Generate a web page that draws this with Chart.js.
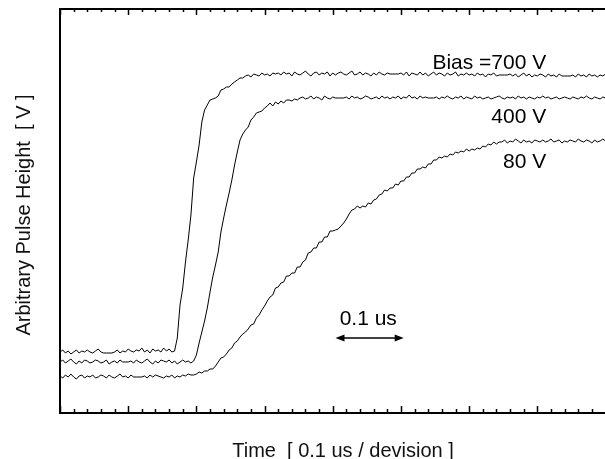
<!DOCTYPE html>
<html>
<head>
<meta charset="utf-8">
<script src="https://cdn.jsdelivr.net/npm/chart.js@4/dist/chart.umd.min.js"></script>
<style>
  html, body { margin: 0; padding: 0; background: #fff; overflow: hidden; }
  #wrap { width: 605px; height: 459px; overflow: hidden; position: relative; }
  canvas { display: block; }
</style>
</head>
<body>
<div id="wrap"><canvas id="c" width="640" height="459"></canvas></div>
<script>
// Time base of the trace (ns), one sample every 4 ns
const timeNs = [0,4,8,12,16,20,24,28,32,36,40,44,48,52,56,60,64,68,72,76,80,84,88,92,96,100,104,108,112,116,120,124,128,132,136,140,144,148,152,156,160,164,168,172,176,180,184,188,192,196,200,204,208,212,216,220,224,228,232,236,240,244,248,252,256,260,264,268,272,276,280,284,288,292,296,300,304,308,312,316,320,324,328,332,336,340,344,348,352,356,360,364,368,372,376,380,384,388,392,396,400,404,408,412,416,420,424,428,432,436,440,444,448,452,456,460,464,468,472,476,480,484,488,492,496,500,504,508,512,516,520,524,528,532,536,540,544,548,552,556,560,564,568,572,576,580,584,588,592,596,600,604,608,612,616,620,624,628,632,636,640,644,648,652,656,660,664,668,672,676,680,684,688,692,696,700,704,708,712,716,720,724,728,732,736,740,744,748,752,756,760,764,768,772,776,780,784,788,792,796,800,804,808,812,816,820,824,828];

// Pulse height (arbitrary units) for each bias voltage
const bias700 = [
  61,63,60,62,59,61,63,60,62,61, 63,61,60,62,64,61,60,60,60,60,
  61,63,60,62,61,64,62,61,63,62, 65,61,63,60,64,62,63,61,65,62,
  64,61,62,
  75,108,125,151,173,198,235,251,268,291, 303,308,313,314,315,317,323,324,326,326,
  329,331,333,335,335,337,338,336,339,338, 337,340,338,339,337,340,339,340,
  338,341,339,340,337,341,339,338,340,342, 339,337,340,341,338,340,339,341,337,340,
  338,340,341,339,338,340,342,338,339,341, 338,340,339,337,340,338,341,339,338,340,
  339,339,339,339,340,338,341,337,340,339, 338,341,338,340,337,339,341,338,340,339,
  337,340,338,339,341,337,339,338,340,338, 339,337,340,338,339,336,339,338,340,337,
  338,338,338,338,339,337,339,336,338,340, 337,339,336,338,337,339,338,336,339,337,
  338,336,339,337,337,337,337,338,336,339, 337,338,336,339,337,338,336,338,337,339,
  336,338,337,336,338,337,336];

const bias400 = [
  51,53,50,52,54,51,49,52,50,53, 52,50,51,53,52,50,51,53,49,51,
  52,50,53,51,51,51,52,50,53,51, 50,52,54,51,49,52,50,53,52,51,
  53,50,52,49,51,53,51,52,50,52,
  58,70,81,92,105,121,136,148,161,181, 195,208,220,233,248,261,273,279,283,286,
  293,296,300,301,302,305,307,310,307,311, 309,312,310,313,313,312,314,313,315,
  316,314,315,317,314,316,315,313,317,315, 314,316,315,315,315,315,316,314,317,315,
  316,314,315,317,316,314,315,316,314,317, 315,316,314,316,315,317,314,316,315,318,
  315,316,314,317,315,316,315,315,315,316, 314,316,315,317,315,314,316,315,317,314,
  316,315,314,317,315,316,314,315,316,314, 315,316,317,315,314,316,315,316,314,317,
  315,316,314,316,315,314,316,315,317,315, 316,314,315,316,314,315,316,315,314,316,
  315,314,316,315,317,315,314,316,315,314, 316,315,314,316,315,316,314,315,316];

const bias80 = [
  37,35,38,36,39,36,34,37,38,35, 37,36,38,35,36,38,37,35,38,36,
  35,37,39,36,37,35,38,36,36,36, 36,37,35,38,36,38,37,36,35,37,
  36,38,35,37,36,38,37,39,38,38,
  39,41,40,42,42,44,44,47,51,55, 56,59,63,65,70,72,76,79,81,84,
  88,89,95,98,103,107,112,116,118,125, 126,130,131,137,137,140,140,146,146,151,
  153,160,161,165,165,171,171,176,176,182, 182,183,184,187,190,194,199,203,204,207,
  205,207,206,210,209,213,214,218,219,223, 222,225,225,229,228,232,232,236,236,240,
  240,244,244,246,245,249,249,253,253,256, 255,257,256,259,258,261,260,262,261,264,
  262,264,263,265,264,267,266,269,268,271, 269,271,
  271,273,270,272,271,274,272,270,273,271, 272,270,273,272,271,273,271,272,274,271,
  272,273,270,272,271,273,272,271,274,272, 271,273,272,270,273,271,272,274,272,271,
  273,272,271,273,272,273];

const seriesNames = ['Bias =700 V', '400 V', '80 V'];
const xTitle = 'Time  [ 0.1 us / devision ]';
const yTitle = 'Arbitrary Pulse Height  [ V ]';
const scaleLabel = '0.1 us';

const FAMILY = '"Liberation Sans", Arial, sans-serif';

function pts(arr) { return timeNs.map((t, i) => ({ x: t, y: arr[i] })); }

const decor = {
  id: 'decor',
  afterDraw(chart) {
    const ctx = chart.ctx;
    const a = chart.chartArea;
    const xs = chart.scales.x, ys = chart.scales.y;
    ctx.save();
    ctx.strokeStyle = '#000';
    ctx.fillStyle = '#000';
    // frame: left, top, bottom
    ctx.lineWidth = 2;
    ctx.beginPath();
    ctx.moveTo(a.right + 5, a.top); ctx.lineTo(a.left, a.top);
    ctx.lineTo(a.left, a.bottom); ctx.lineTo(a.right + 5, a.bottom);
    ctx.stroke();
    // inward ticks every 20 ns, major every 100 ns
    ctx.lineWidth = 1.5;
    ctx.beginPath();
    for (let t = 0; t <= 840; t += 20) {
      const px = Math.round(xs.getPixelForValue(t)) + 0.5;
      const major = t % 100 === 0;
      const lb = major ? 7 : 4, lt = major ? 6 : 3;
      ctx.moveTo(px, a.bottom); ctx.lineTo(px, a.bottom - lb);
      ctx.moveTo(px, a.top); ctx.lineTo(px, a.top + lt);
    }
    ctx.stroke();

    // series labels
    ctx.font = '21px ' + FAMILY;
    ctx.textAlign = 'right';
    ctx.textBaseline = 'alphabetic';
    const labelAnchors = [[713, 344], [713, 290], [713, 245]];
    seriesNames.forEach((s, i) => {
      ctx.fillText(s, xs.getPixelForValue(labelAnchors[i][0]), ys.getPixelForValue(labelAnchors[i][1]));
    });

    // 0.1 us scale arrow
    const ax1 = xs.getPixelForValue(404), ax2 = xs.getPixelForValue(504), ay = ys.getPixelForValue(75);
    ctx.lineWidth = 1.6;
    ctx.beginPath(); ctx.moveTo(ax1 + 4, ay); ctx.lineTo(ax2 - 4, ay); ctx.stroke();
    ctx.beginPath();
    ctx.moveTo(ax1, ay); ctx.lineTo(ax1 + 9, ay - 3.5); ctx.lineTo(ax1 + 9, ay + 3.5); ctx.closePath();
    ctx.moveTo(ax2, ay); ctx.lineTo(ax2 - 9, ay - 3.5); ctx.lineTo(ax2 - 9, ay + 3.5); ctx.closePath();
    ctx.fill();
    ctx.textAlign = 'center';
    ctx.fillText(scaleLabel, xs.getPixelForValue(452), ys.getPixelForValue(88));

    // axis titles
    ctx.font = '20px ' + FAMILY;
    ctx.fillStyle = '#111';
    ctx.fillText(xTitle, (a.left + a.right) / 2, a.bottom + 44);
    ctx.save();
    ctx.translate(30, (a.top + a.bottom) / 2 + 4);
    ctx.rotate(-Math.PI / 2);
    ctx.textAlign = 'center';
    ctx.fillText(yTitle, 0, 0);
    ctx.restore();
    ctx.restore();
  }
};

const lineStyle = { borderColor: '#000', borderWidth: 1, pointRadius: 0, tension: 0, fill: false };

new Chart(document.getElementById('c'), {
  type: 'line',
  data: {
    datasets: [
      Object.assign({ label: seriesNames[0], data: pts(bias700) }, lineStyle),
      Object.assign({ label: seriesNames[1], data: pts(bias400) }, lineStyle),
      Object.assign({ label: seriesNames[2], data: pts(bias80) }, lineStyle)
    ]
  },
  options: {
    responsive: false,
    animation: false,
    devicePixelRatio: 1,
    layout: { padding: { left: 60, top: 9, right: 14, bottom: 46 } },
    plugins: { legend: { display: false }, tooltip: { enabled: false } },
    scales: {
      x: { type: 'linear', min: 0, max: 830, display: false },
      y: { type: 'linear', min: 0, max: 404, display: false }
    }
  },
  plugins: [decor]
});
</script>
</body>
</html>
